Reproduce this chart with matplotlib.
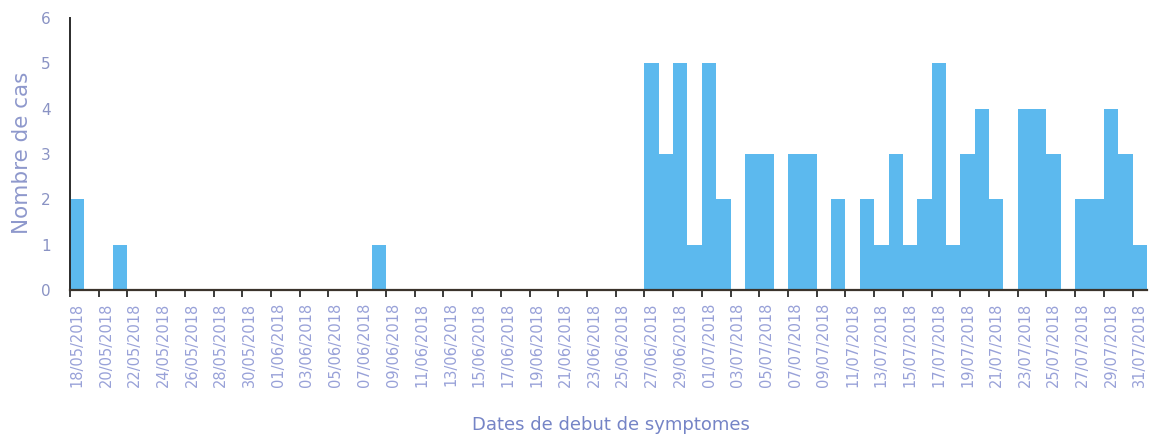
import matplotlib
matplotlib.use("Agg")
import matplotlib.pyplot as plt
import numpy as np
import datetime as dt

# ---- data ----
start_date = dt.date(2018, 5, 18)
n_days = 75  # 18/05/2018 .. 31/07/2018
dates = [start_date + dt.timedelta(days=k) for k in range(n_days)]
date_labels = [d.strftime("%d/%m/%Y") for d in dates]

cases = [2, 0, 0, 1, 0, 0, 0, 0, 0, 0,   # 18/05 - 27/05
         0, 0, 0, 0, 0, 0, 0, 0, 0, 0,   # 28/05 - 06/06
         0, 1, 0, 0, 0, 0, 0, 0, 0, 0,   # 07/06 - 16/06
         0, 0, 0, 0, 0, 0, 0, 0, 0, 0,   # 17/06 - 26/06
         5, 3, 5, 1, 5, 2, 0, 3, 3, 0,   # 27/06 - 06/07
         3, 3, 0, 2, 0, 2, 1, 3, 1, 2,   # 07/07 - 16/07
         5, 1, 3, 4, 2, 0, 4, 4, 3, 0,   # 17/07 - 26/07
         2, 2, 4, 3, 1]                  # 27/07 - 31/07

y_ticks = [0, 1, 2, 3, 4, 5, 6]

# ---- figure ----
W, H = 1150, 438
fig = plt.figure(figsize=(W / 100, H / 100), dpi=100)
left_px, right_px, top_px, bottom_px = 70, 1147, 18, 290
ax = fig.add_axes([left_px / W, 1 - bottom_px / H,
                   (right_px - left_px) / W, (bottom_px - top_px) / H])

x = np.arange(n_days)
ax.bar(x, cases, width=1.0, align="edge", color="#5cb9ee", edgecolor="none")

ax.set_xlim(0, n_days)
ax.set_ylim(0, 6)

# spines
for s in ["top", "right"]:
    ax.spines[s].set_visible(False)
ax.spines["left"].set_color("#2b2b2b")
ax.spines["left"].set_linewidth(1.4)
ax.spines["bottom"].set_color("#3b342c")
ax.spines["bottom"].set_linewidth(1.6)

# y axis
ax.set_yticks(y_ticks)
ax.set_yticklabels([str(v) for v in y_ticks], fontsize=11, color="#8a93c4")
ax.tick_params(axis="y", length=0, pad=14)
fig.text(22 / W, 1 - 153 / H, "Nombre de cas", rotation=90, fontsize=15.5,
         color="#8e98cc", ha="center", va="center")

# x axis: tick marks at every 2-day boundary, labels at day centres
ax.set_xticks(np.arange(0, n_days, 2))
ax.set_xticklabels([])
ax.tick_params(axis="x", which="major", direction="out", length=5, width=1.3,
               color="#2b2b2b")
ax.set_xticks(np.arange(0, n_days, 2) + 0.5, minor=True)
ax.set_xticklabels(date_labels[::2], minor=True, rotation=90, fontsize=10.5,
                   color="#98a1d8")
ax.tick_params(axis="x", which="minor", length=0, pad=9)

fig.text(611 / W, 1 - 425 / H, "Dates de debut de symptomes", fontsize=13,
         color="#7584c6", ha="center", va="center")

fig.savefig("out.png", dpi=100)
